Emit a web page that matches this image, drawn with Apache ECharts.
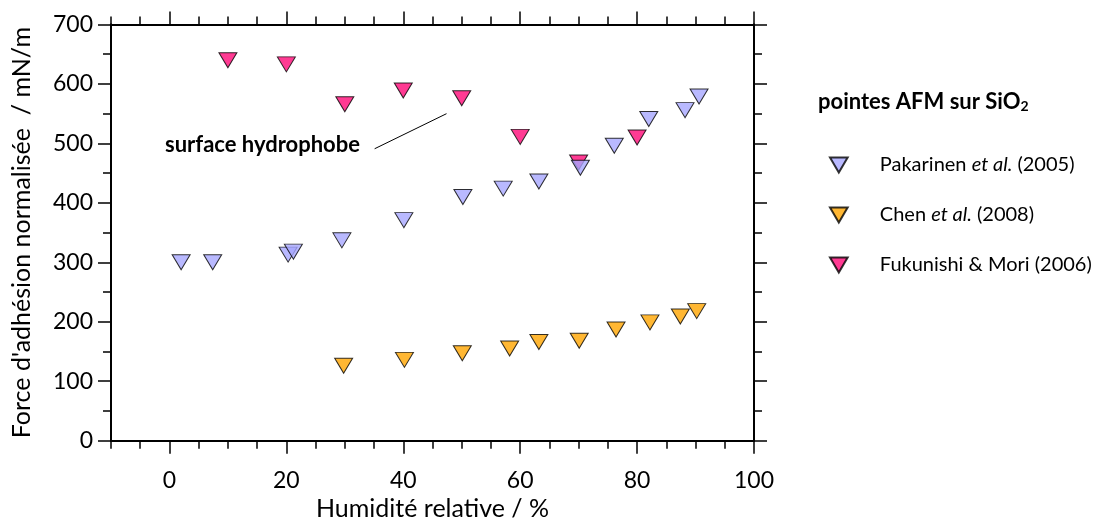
<!DOCTYPE html>
<html>
<head>
<meta charset="utf-8">
<script src="https://cdn.jsdelivr.net/npm/echarts@6/dist/echarts.min.js"></script>
<style>
html,body{margin:0;padding:0;background:#fff;}
#chart{width:1094px;height:523px;}
</style>
</head>
<body>
<div id="chart"></div>
<script>
// ---- data ----
const seriesNames = ['Pakarinen et al. (2005)', 'Chen et al. (2008)', 'Fukunishi & Mori (2006)'];
const pakarinenX = [2, 7.4, 20.3, 21.2, 29.5, 40.1, 50.2, 57.1, 63.2, 70.3, 76.1, 82.0, 88.2, 90.6];
const pakarinenY = [300, 300, 313, 318, 337, 371, 410, 424, 436, 459, 496, 541, 556, 579];
const chenX = [29.8, 40.2, 50.1, 58.2, 63.2, 70.1, 76.4, 82.2, 87.4, 90.2];
const chenY = [126, 136, 147, 155, 166, 168, 187, 199, 209, 218];
const fukunishiX = [10, 20, 30, 40, 50, 60, 70, 80];
const fukunishiY = [640, 633, 566, 589, 576, 511, 468, 510];
const xMajorTicks = [0, 20, 40, 60, 80, 100];
const xMinorTicks = [-10, -5, 5, 10, 15, 25, 30, 35, 45, 50, 55, 65, 70, 75, 85, 90, 95];
const yMajorTicks = [0, 100, 200, 300, 400, 500, 600, 700];
const yMinorTicks = [50, 150, 250, 350, 450, 550, 650];
const annotationText = 'surface hydrophobe';
const annotationLine = [[35.1, 491], [47.4, 550]];
const legendTitle = 'pointes AFM sur SiO{s|2}';
const colors = ['#a8a8ff', '#ffa500', '#ff0a78'];

const zip = (xs, ys) => xs.map((x, i) => [x, ys[i]]);
const FONT = 'Lato, "Open Sans", sans-serif';
const tri = 'path://M0,0 L20,0 L10,17 Z';

function xAx(pos, major, labels) {
  return {
    type: 'value', position: pos, min: -10, max: 100,
    gridIndex: 0,
    axisLine: { show: true, onZero: false, lineStyle: { color: '#000', width: 2 } },
    axisTick: { show: true, inside: false, customValues: major ? xMajorTicks : xMinorTicks,
      length: major ? 13 : 8, lineStyle: { color: '#000', width: 1.5 } },
    axisLabel: labels ? { show: true, customValues: xMajorTicks, margin: 28, color: '#000', fontSize: 23, fontFamily: FONT } : { show: false },
    splitLine: { show: false },
    name: labels ? 'Humidité relative / %' : '',
    nameLocation: 'middle', nameGap: 55,
    nameTextStyle: { color: '#000', fontSize: 25, fontFamily: FONT }
  };
}
function yAx(pos, major, labels) {
  return {
    type: 'value', position: pos, min: 0, max: 700,
    gridIndex: 0,
    axisLine: { show: true, onZero: false, lineStyle: { color: '#000', width: 2 } },
    axisTick: { show: true, inside: false, customValues: major ? yMajorTicks : yMinorTicks,
      length: major ? 13 : 8, lineStyle: { color: '#000', width: 1.5 } },
    axisLabel: labels ? { show: true, customValues: yMajorTicks, margin: 18, color: '#000', fontSize: 23, fontFamily: FONT } : { show: false },
    splitLine: { show: false },
    name: labels ? "Force d'adhésion normalisée  / mN/m" : '',
    nameLocation: 'middle', nameGap: 77,
    nameTextStyle: { color: '#000', fontSize: 25, fontFamily: FONT }
  };
}

const symStyle = (c) => ({ color: c, borderColor: '#000', borderWidth: 1 });

const chart = echarts.init(document.getElementById('chart'), null, { renderer: 'canvas' });
chart.setOption({
  animation: false,
  backgroundColor: '#fff',
  grid: { left: 111, right: 340, top: 24.5, bottom: 82.3, containLabel: false, outerBoundsMode: 'none' },
  xAxis: [xAx('bottom', true, true), xAx('bottom', false, false), xAx('top', true, false), xAx('top', false, false)],
  yAxis: [yAx('left', true, true), yAx('left', false, false), yAx('right', true, false), yAx('right', false, false)],
  legend: {
    orient: 'vertical', left: 824, top: 150,
    itemWidth: 18, itemHeight: 15, itemGap: 30,
    icon: tri,
    data: seriesNames,
    formatter: (n) => n.replace('et al.', '{i|et al.}'),
    textStyle: {
      color: '#000', fontSize: 20, fontFamily: FONT, lineHeight: 20, padding: [0, 0, 0, 27],
      rich: { i: { fontStyle: 'italic', fontSize: 20, fontFamily: FONT, color: '#000' } }
    }
  },
  graphic: [
    { type: 'text', left: 818, top: 91,
      style: { text: legendTitle, fill: '#000', font: 'bold 22px ' + FONT,
        rich: { s: { fontSize: 14, fontWeight: 'bold', fontFamily: FONT, fill: '#000', padding: [9, 0, 0, 0] } } } },
    { type: 'text', left: 165, top: 134,
      style: { text: annotationText, fill: '#000', font: 'bold 22px ' + FONT } }
  ],
  series: [
    { name: seriesNames[2], type: 'scatter', data: zip(fukunishiX, fukunishiY),
      symbol: 'triangle', symbolRotate: 180, symbolSize: [18, 15], itemStyle: symStyle(colors[2]),
      markLine: { silent: true, symbol: ['none', 'none'], label: { show: false },
        lineStyle: { color: '#000', width: 1, type: 'solid' },
        data: [[{ coord: annotationLine[0] }, { coord: annotationLine[1] }]] } },
    { name: seriesNames[1], type: 'scatter', data: zip(chenX, chenY),
      symbol: 'triangle', symbolRotate: 180, symbolSize: [18, 15], itemStyle: symStyle(colors[1]) },
    { name: seriesNames[0], type: 'scatter', data: zip(pakarinenX, pakarinenY),
      symbol: 'triangle', symbolRotate: 180, symbolSize: [18, 15], itemStyle: symStyle(colors[0]) }
  ]
});
</script>
</body>
</html>
